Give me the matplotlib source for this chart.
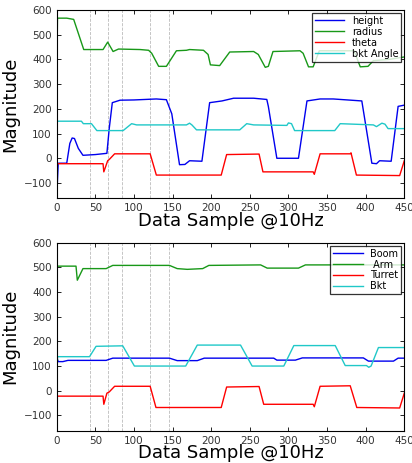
import matplotlib.pyplot as plt
import numpy as np

# top panel: breakpoints
height_x = [0, 2, 13, 17, 20, 23, 28, 34, 50, 65, 68, 72, 82, 100, 129, 142, 149, 159, 166, 172, 188, 198, 214, 229, 255, 272, 274, 285, 313, 324, 341, 358, 395, 408, 414, 418, 433, 442, 450]
height_y = [-160, -20, -20, 60, 82, 80, 40, 12, 15, 20, 120, 225, 235, 236, 240, 237, 180, -26, -25, -10, -12, 225, 232, 243, 243, 238, 210, 0, 0, 232, 240, 240, 232, -20, -22, -10, -12, 210, 215]

radius_x = [0, 1, 13, 22, 35, 60, 66, 73, 80, 108, 119, 123, 132, 142, 155, 168, 172, 190, 196, 199, 211, 224, 255, 261, 270, 274, 280, 315, 319, 326, 332, 340, 385, 393, 403, 410, 430, 450]
radius_y = [300, 567, 567, 562, 440, 440, 470, 432, 442, 440, 437, 425, 372, 372, 435, 437, 440, 437, 420, 378, 375, 430, 432, 420, 368, 372, 432, 435, 425, 370, 370, 435, 435, 370, 372, 395, 400, 410]

theta_x = [0, 60, 61, 66, 68, 75, 121, 129, 213, 220, 262, 267, 332, 333.5, 341, 380, 381, 388, 444, 450]
theta_y = [-22, -22, -55, -10, -5, 18, 18, -68, -68, 15, 17, -55, -55, -65, 18, 18, 22, -68, -70, -10]

bkt_x = [0, 32, 34.5, 45, 52, 86, 97, 103.5, 168, 172, 175, 181, 237, 246, 255, 298, 300, 304, 308, 360, 367, 410, 414, 421, 425, 429, 450]
bkt_y = [150, 150, 140, 140, 112, 112, 140, 135, 135, 142, 135, 115, 115, 140, 135, 133, 143, 140, 112, 112, 140, 135, 128, 142, 138, 120, 120]

# bottom panel
boom_x = [0, 2, 8, 14.6, 64, 72.6, 146, 156, 182, 191, 281, 285, 309, 318, 397, 403.6, 436, 442, 450]
boom_y = [135, 118, 118, 123, 123, 132, 132, 122, 122, 132, 132, 124, 124, 133, 133, 120, 120, 132, 132]

arm_x = [0, 25, 26.7, 34, 64, 72.6, 146, 156, 169, 189, 197, 264, 272.5, 313, 322, 450]
arm_y = [505, 505, 448, 495, 495, 508, 508, 495, 492, 495, 508, 510, 497, 497, 510, 510]

turret_x = [0, 60, 61, 65, 68, 75, 121, 128.5, 213, 220, 262, 268, 332, 333.5, 341, 380, 388.5, 444, 450]
turret_y = [-22, -22, -55, -10, -5, 18, 18, -68, -68, 15, 17, -55, -55, -65, 18, 20, -68, -70, -10]

bkt2_x = [0, 1, 42.5, 51, 85.5, 100.6, 167, 182, 238, 253, 294, 307, 360.6, 373.5, 401, 404, 407, 416.5, 450]
bkt2_y = [0, 138, 138, 180, 182, 100, 100, 185, 185, 100, 100, 183, 183, 102, 102, 95, 100, 175, 175]

events = [43, 67, 85, 121, 146]

blue = '#0000ee'
green = '#189818'
red = '#ff0000'
cyan = '#20c8c8'

fig = plt.figure(figsize=(4.12, 4.63), dpi=100)
ax1 = fig.add_axes([0.1376, 0.5717, 0.8437, 0.4067])
ax2 = fig.add_axes([0.1376, 0.0698, 0.8437, 0.406])

def style(ax):
    for x in events:
        ax.axvline(x, color='#bbbbbb', ls='--', lw=0.6, zorder=0)
    ax.set_xlim(0, 450)
    ax.set_ylim(-162, 600)
    ax.set_xticks(np.arange(0, 451, 50))
    ax.set_yticks(np.arange(-100, 601, 100))
    ax.tick_params(direction='in', top=True, right=True, labelsize=7.5,
                   labelcolor='#333333', length=3, width=0.6)
    for s in ax.spines.values():
        s.set_linewidth(0.8)
    ax.set_xlabel('Data Sample @10Hz', fontsize=13, labelpad=-1)
    ax.set_ylabel('Magnitude', fontsize=13, labelpad=3)

ax1.plot(height_x, height_y, color=blue, lw=1, label='height')
ax1.plot(radius_x, radius_y, color=green, lw=1, label='radius')
ax1.plot(theta_x, theta_y, color=red, lw=1, label='theta')
ax1.plot(bkt_x, bkt_y, color=cyan, lw=1, label='bkt Angle')
style(ax1)
leg = ax1.legend(loc='upper right', fontsize=7, fancybox=False, edgecolor='black',
                 borderaxespad=0.3, handlelength=3, labelspacing=0.1, borderpad=0.3)
leg.get_frame().set_linewidth(0.9)

ax2.plot(boom_x, boom_y, color=blue, lw=1, label='Boom')
ax2.plot(arm_x, arm_y, color=green, lw=1, label=' Arm')
ax2.plot(turret_x, turret_y, color=red, lw=1, label='Turret')
ax2.plot(bkt2_x, bkt2_y, color=cyan, lw=1, label='Bkt')
style(ax2)
leg = ax2.legend(loc='upper right', fontsize=7, fancybox=False, edgecolor='black',
                 borderaxespad=0.3, handlelength=3, labelspacing=0.1, borderpad=0.3)
leg.get_frame().set_linewidth(0.9)

fig.savefig('out.png', dpi=100)
